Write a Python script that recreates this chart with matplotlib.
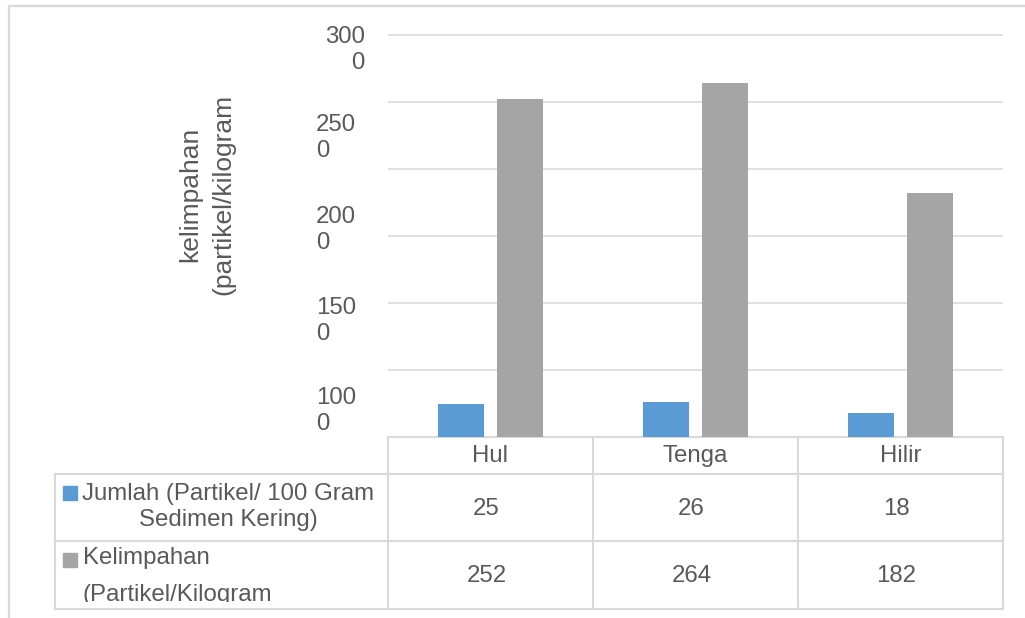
import matplotlib.pyplot as plt
import numpy as np
from matplotlib.transforms import Bbox

# data per lokasi sampling
lokasi = ['Hul', 'Tenga', 'Hilir']
jumlah = [25, 26, 18]           # partikel / 100 gram sedimen kering
kelimpahan = [252, 264, 182]    # partikel / kilogram
label_sumbu_y = ['300\n0', '250\n0', '200\n0', '150\n0', '100\n0']
grid_y = [0, 50, 100, 150, 200, 250, 300]

plt.rcParams['font.family'] = ['Liberation Sans', 'DejaVu Sans']
teks = '#595959'
garis = '#D9D9D9'
biru = '#5B9BD5'
abu = '#A5A5A5'
fs = 17.3

W, H = 1025, 618
fig = plt.figure(figsize=(W / 100, H / 100), dpi=100)
fig.patch.set_facecolor('white')

# kanvas dalam koordinat piksel untuk tabel dan teks
kan = fig.add_axes([0, 0, 1, 1], zorder=0)
kan.set_xlim(0, W)
kan.set_ylim(H, 0)
kan.axis('off')

# area plot
x0, x1, y0 = 388, 1003, 437
skala = 402 / 300
ymax = 302
ax = fig.add_axes([x0 / W, (H - y0) / H, (x1 - x0) / W, ymax * skala / H], zorder=1)
ax.set_facecolor('none')
ax.set_xlim(-0.5, 2.5)
ax.set_ylim(0, ymax)
for s in ax.spines.values():
    s.set_visible(False)
ax.set_yticks(grid_y[1:])
ax.set_xticks([])
ax.tick_params(left=False, labelleft=False)
ax.yaxis.grid(True, color=garis, lw=1.1)
ax.set_axisbelow(True)

x = np.arange(len(lokasi))
ax.bar(x - 0.144, jumlah, 0.226, color=biru, zorder=2)
ax.bar(x + 0.144, kelimpahan, 0.226, color=abu, zorder=2)

# bingkai luar
kan.plot([9, W], [6, 6], color=garis, lw=1.6)
kan.plot([9, 9], [6, H], color=garis, lw=1.6)

# label sumbu y
pos_label = [(365, 50, 'right'), (316, 138, 'left'), (316, 230, 'left'),
             (316, 321, 'left'), (316, 411, 'left')]
for lab, (lx, ly, ha) in zip(label_sumbu_y, pos_label):
    kan.text(lx, ly, lab, ha=ha, va='center', multialignment=ha,
             fontsize=fs, color=teks, linespacing=1.2)

kan.text(207, 194, 'kelimpahan\n(partikel/kilogram', rotation=90,
         ha='center', va='center', fontsize=19, color=teks, linespacing=1.5)

# tabel data
kolom = [388, 593, 798, 1003]
baris = [437, 474, 541, 609]
lw_t = 1.5
kan.plot([kolom[0], kolom[-1]], [baris[0], baris[0]], color=garis, lw=lw_t)
for yb in baris[1:]:
    kan.plot([55, kolom[-1]], [yb, yb], color=garis, lw=lw_t)
for xk in kolom:
    kan.plot([xk, xk], [baris[0], baris[-1]], color=garis, lw=lw_t)
kan.plot([55, 55], [baris[1], baris[-1]], color=garis, lw=lw_t)

for i, nama in enumerate(lokasi):
    cx = (kolom[i] + kolom[i + 1]) / 2
    kan.text(cx, 456, nama, ha='center', va='center', fontsize=fs, color=teks)
    kan.text(cx - 4, 509, str(jumlah[i]), ha='center', va='center', fontsize=fs, color=teks)
    kan.text(cx - 4, 576, str(kelimpahan[i]), ha='center', va='center', fontsize=fs, color=teks)

# keterangan seri
kan.add_patch(plt.Rectangle((63, 486), 14, 14, color=biru))
kan.text(228, 507, 'Jumlah (Partikel/ 100 Gram\nSedimen Kering)', ha='center', va='center',
         fontsize=fs, color=teks, linespacing=1.2)

kan.add_patch(plt.Rectangle((63, 553), 14, 14, color=abu))
kan.text(83, 558, 'Kelimpahan', ha='left', va='center', fontsize=fs, color=teks)
t = kan.text(83, 595, '(Partikel/Kilogram', ha='left', va='center', fontsize=fs, color=teks)
t.set_clip_box(Bbox([[55, H - 602], [388, H - 541]]))
t.set_clip_on(True)

fig.savefig('out.png', dpi=100)
